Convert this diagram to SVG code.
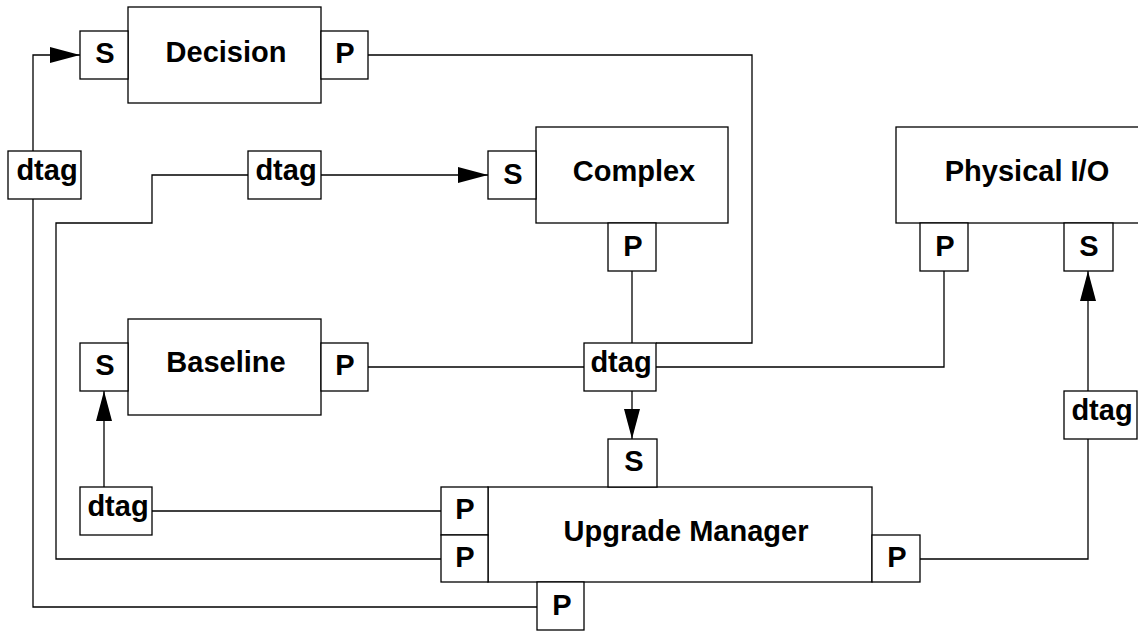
<svg xmlns="http://www.w3.org/2000/svg" width="1138" height="631" viewBox="0 0 1138 631">
<style>
.box{fill:#fff;stroke:#000;stroke-width:1.3}
.t{font-family:"Liberation Sans",Arial,sans-serif;font-weight:bold;font-size:29px;text-anchor:middle;fill:#000}
.c{fill:none;stroke:#000;stroke-width:1.3}
</style>
<defs>
<marker id="arr" markerUnits="userSpaceOnUse" markerWidth="31" markerHeight="16" refX="30" refY="8" orient="auto">
<path d="M0,0 L30,8 L0,16 z" fill="#000"/>
</marker>
</defs>
<rect width="1138" height="631" fill="#fff"/>
<g id="connectors">
<path class="c" d="M33,151 V55 H80" marker-end="url(#arr)"/>
<path class="c" d="M33,199 V607 H537"/>
<path class="c" d="M248,175 H152 V223 H56 V559 H441"/>
<path class="c" d="M321,175 H488" marker-end="url(#arr)"/>
<path class="c" d="M368,55 H752 V343 H656"/>
<path class="c" d="M632,271 V343"/>
<path class="c" d="M368,367 H584"/>
<path class="c" d="M656,367 H944 V271"/>
<path class="c" d="M632,391 V439" marker-end="url(#arr)"/>
<path class="c" d="M1088,391 V271" marker-end="url(#arr)"/>
<path class="c" d="M1088,439 V559 H920"/>
<path class="c" d="M104,487 V391" marker-end="url(#arr)"/>
<path class="c" d="M152,511 H441"/>
</g>
<g id="decision">
<rect class="box" x="128" y="7" width="193" height="96"/>
<text class="t" x="226" y="62">Decision</text>
<rect class="box" x="80" y="31" width="48" height="48"/>
<text class="t" x="105" y="63">S</text>
<rect class="box" x="321" y="31" width="47" height="48"/>
<text class="t" x="345" y="63">P</text>
</g>
<g id="dtag-left">
<rect class="box" x="8" y="151" width="73" height="48"/>
<text class="t" x="47" y="180">dtag</text>
</g>
<g id="dtag-top">
<rect class="box" x="248" y="151" width="73" height="48"/>
<text class="t" x="286" y="180">dtag</text>
</g>
<g id="complex">
<rect class="box" x="536" y="127" width="192" height="96"/>
<text class="t" x="634" y="181">Complex</text>
<rect class="box" x="488" y="151" width="48" height="48"/>
<text class="t" x="513" y="184">S</text>
<rect class="box" x="608" y="223" width="48" height="48"/>
<text class="t" x="633" y="256">P</text>
</g>
<g id="physical-io">
<rect class="box" x="896" y="127" width="264" height="96"/>
<text class="t" x="1027" y="181">Physical I/O</text>
<rect class="box" x="920" y="223" width="48" height="48"/>
<text class="t" x="945" y="256">P</text>
<rect class="box" x="1064" y="223" width="49" height="48"/>
<text class="t" x="1089" y="256">S</text>
</g>
<g id="baseline">
<rect class="box" x="128" y="319" width="193" height="96"/>
<text class="t" x="226" y="372">Baseline</text>
<rect class="box" x="80" y="343" width="48" height="48"/>
<text class="t" x="105" y="375">S</text>
<rect class="box" x="321" y="343" width="47" height="48"/>
<text class="t" x="345" y="375">P</text>
</g>
<g id="dtag-center">
<rect class="box" x="584" y="343" width="72" height="48"/>
<text class="t" x="621" y="372">dtag</text>
</g>
<g id="dtag-right">
<rect class="box" x="1064" y="391" width="73" height="48"/>
<text class="t" x="1102" y="420">dtag</text>
</g>
<g id="dtag-bottom-left">
<rect class="box" x="80" y="487" width="72" height="48"/>
<text class="t" x="118" y="516">dtag</text>
</g>
<g id="upgrade-manager">
<rect class="box" x="488" y="487" width="384" height="95"/>
<text class="t" x="686" y="541">Upgrade Manager</text>
<rect class="box" x="608" y="439" width="49" height="48"/>
<text class="t" x="634" y="471">S</text>
<rect class="box" x="441" y="487" width="47" height="48"/>
<text class="t" x="465" y="519">P</text>
<rect class="box" x="441" y="535" width="47" height="47"/>
<text class="t" x="465" y="567">P</text>
<rect class="box" x="872" y="535" width="48" height="47"/>
<text class="t" x="897" y="567">P</text>
<rect class="box" x="537" y="582" width="47" height="48"/>
<text class="t" x="562" y="615">P</text>
</g>
</svg>
